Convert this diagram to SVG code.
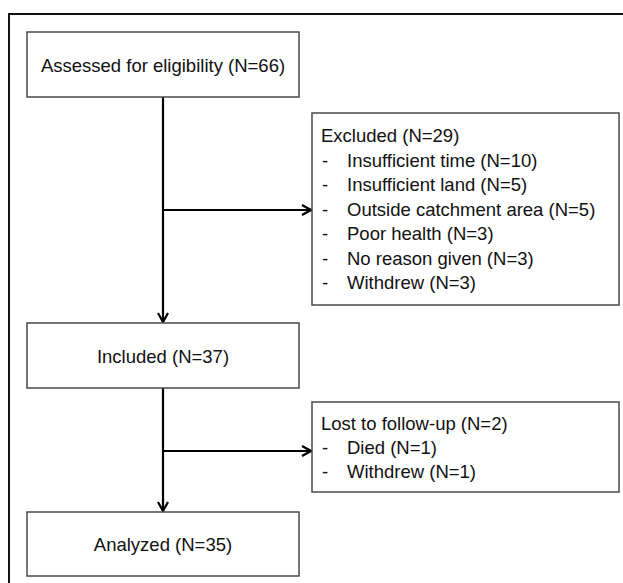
<svg xmlns="http://www.w3.org/2000/svg" width="623" height="583" viewBox="0 0 623 583">
<style>
.box{fill:#fff;stroke:#4a4a4a;stroke-width:1.5}
.t{font-family:"Liberation Sans",Arial,sans-serif;font-size:18.5px;fill:#111}
.c{text-anchor:middle}
.conn{fill:none;stroke:#000;stroke-width:2.2}
</style>
<defs>
<marker id="arr" markerUnits="userSpaceOnUse" markerWidth="14" markerHeight="14" viewBox="0 0 14 14" refX="12" refY="7" orient="auto">
<path d="M3,2 L12,7 L3,12" fill="none" stroke="#000" stroke-width="2.2"/>
</marker>
</defs>
<rect x="9" y="14" width="630" height="590" fill="#fff" stroke="#111" stroke-width="2"/>
<g id="connectors">
<line class="conn" x1="163" y1="97" x2="163" y2="322" marker-end="url(#arr)"/>
<line class="conn" x1="163" y1="210" x2="311" y2="210" marker-end="url(#arr)"/>
<line class="conn" x1="163" y1="388" x2="163" y2="511" marker-end="url(#arr)"/>
<line class="conn" x1="163" y1="451" x2="311" y2="451" marker-end="url(#arr)"/>
</g>
<g id="assessed">
<rect class="box" x="27" y="32" width="272" height="65"/>
<text class="t c" x="163" y="72">Assessed for eligibility (N=66)</text>
</g>
<g id="excluded">
<rect class="box" x="312" y="113" width="307" height="192"/>
<text class="t" x="321" y="142">Excluded (N=29)</text>
<text class="t" x="322" y="167">-</text><text class="t" x="347" y="167">Insufficient time (N=10)</text>
<text class="t" x="322" y="191">-</text><text class="t" x="347" y="191">Insufficient land (N=5)</text>
<text class="t" x="322" y="216">-</text><text class="t" x="347" y="216">Outside catchment area (N=5)</text>
<text class="t" x="322" y="240">-</text><text class="t" x="347" y="240">Poor health (N=3)</text>
<text class="t" x="322" y="265">-</text><text class="t" x="347" y="265">No reason given (N=3)</text>
<text class="t" x="322" y="289">-</text><text class="t" x="347" y="289">Withdrew (N=3)</text>
</g>
<g id="included">
<rect class="box" x="27" y="323" width="272" height="65"/>
<text class="t c" x="163" y="363">Included (N=37)</text>
</g>
<g id="lost">
<rect class="box" x="312" y="402" width="307" height="90"/>
<text class="t" x="321" y="430">Lost to follow-up (N=2)</text>
<text class="t" x="322" y="454">-</text><text class="t" x="347" y="454">Died (N=1)</text>
<text class="t" x="322" y="478">-</text><text class="t" x="347" y="478">Withdrew (N=1)</text>
</g>
<g id="analyzed">
<rect class="box" x="27" y="512" width="272" height="64"/>
<text class="t c" x="163" y="551">Analyzed (N=35)</text>
</g>
</svg>
